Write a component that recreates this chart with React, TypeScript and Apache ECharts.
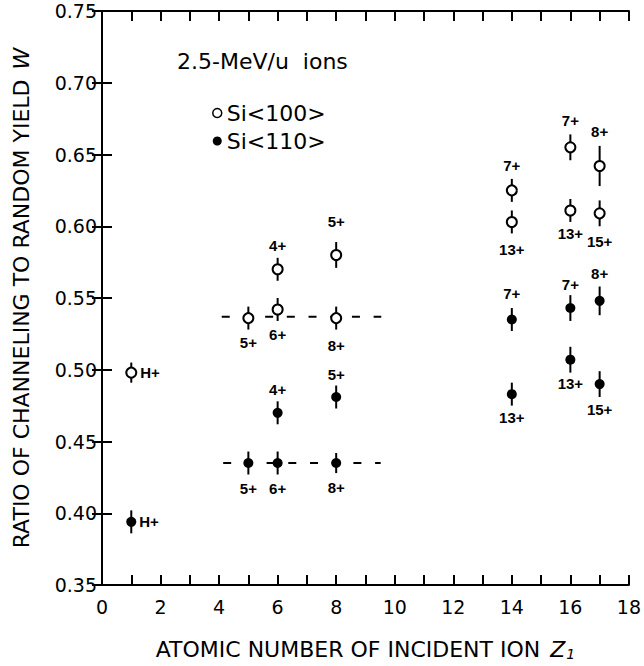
import React, { useEffect, useRef } from "react";
import * as echarts from "echarts";

// ---- Data ----
const xTicks = [0, 2, 4, 6, 8, 10, 12, 14, 16, 18];
const yTicks = [0.35, 0.4, 0.45, 0.5, 0.55, 0.6, 0.65, 0.7, 0.75];

const si100Z = [1, 5, 6, 6, 8, 8, 14, 14, 16, 16, 17, 17];
const si100W = [0.498, 0.536, 0.570, 0.542, 0.580, 0.536, 0.625, 0.603, 0.655, 0.611, 0.642, 0.609];
const si100Err = [0.007, 0.008, 0.008, 0.008, 0.009, 0.008, 0.008, 0.008, 0.009, 0.008, 0.014, 0.009];
const si100Charge = ["H+", "5+", "4+", "6+", "5+", "8+", "7+", "13+", "7+", "13+", "8+", "15+"];

const si110Z = [1, 5, 6, 6, 8, 8, 14, 14, 16, 16, 17, 17];
const si110W = [0.394, 0.435, 0.470, 0.435, 0.481, 0.435, 0.535, 0.483, 0.543, 0.507, 0.548, 0.490];
const si110Err = [0.008, 0.008, 0.008, 0.008, 0.008, 0.007, 0.008, 0.008, 0.009, 0.009, 0.010, 0.009];
const si110Charge = ["H+", "5+", "4+", "6+", "5+", "8+", "7+", "13+", "7+", "13+", "8+", "15+"];

// dashed reference levels: [zStart, zEnd, W]
const refUpper = [4.09, 9.54, 0.537];
const refLower = [4.14, 9.52, 0.435];

// ---- label placement (style) ----
const si100LabelPos = ["right", "bottom", "top", "bottom", "top", "bottom", "top", "bottom", "top", "bottom", "top", "bottom"];
const si100LabelDist = [3, 11, 10, 12, 20, 14, 11, 14, 13, 10, 21, 15];
const si110LabelPos = ["right", "bottom", "top", "bottom", "top", "bottom", "top", "bottom", "top", "bottom", "top", "bottom"];
const si110LabelDist = [3, 13, 11, 13, 10, 12, 14, 11, 11, 11, 15, 13];

const FONT = "Liberation Sans, Arial, Helvetica, sans-serif";
const WIDE_FONT = "DejaVu Sans, Liberation Sans, sans-serif";

export default function App() {
  const ref = useRef<HTMLDivElement>(null);

  useEffect(() => {
    const chart = echarts.init(ref.current!, null, { renderer: "svg" });

    const errorSeries = (name: string, zs: number[], ws: number[], es: number[]) => ({
      name,
      type: "custom",
      silent: true,
      z: 1,
      renderItem: (_p: any, api: any) => {
        const x = api.value(0);
        const p1 = api.coord([x, api.value(1)]);
        const p2 = api.coord([x, api.value(2)]);
        return {
          type: "line",
          shape: { x1: p1[0], y1: p1[1], x2: p2[0], y2: p2[1] },
          style: { stroke: "#000", lineWidth: 2 },
        };
      },
      encode: { x: 0, y: [1, 2] },
      data: zs.map((z, i) => [z, ws[i] - es[i], ws[i] + es[i]]),
    });

    const pointData = (zs: number[], ws: number[], charges: string[], pos: string[], dist: number[]) =>
      zs.map((z, i) => ({
        value: [z, ws[i]],
        label: { formatter: charges[i], position: pos[i], distance: dist[i] },
      }));

    const labelStyle = {
      show: true,
      color: "#000",
      fontSize: 15,
      fontWeight: "bold",
      fontFamily: FONT,
    };

    const dashed = (name: string, r: number[]) => ({
      name,
      type: "line",
      silent: true,
      symbol: "none",
      z: 0,
      lineStyle: { color: "#000", width: 2, type: [8, 13.7] },
      data: [
        [r[0], r[2]],
        [r[1], r[2]],
      ],
    });

    const tickAxisCommon = {
      axisLine: { show: true, lineStyle: { color: "#000", width: 2 } },
      axisTick: { show: true, inside: true, length: 10, lineStyle: { color: "#000", width: 2 } },
      splitLine: { show: false },
    };

    chart.setOption({
      animation: false,
      backgroundColor: "#fff",
      title: {
        text: "2.5-MeV/u  ions",
        left: 177,
        top: 50,
        padding: 0,
        textStyle: { fontFamily: WIDE_FONT, fontSize: 22, fontWeight: "normal", color: "#000" },
      },
      legend: {
        data: [
          { name: "Si<100>", icon: "circle", itemStyle: { color: "#fff", borderColor: "#000", borderWidth: 1.5 } },
          { name: "Si<110>", icon: "circle", itemStyle: { color: "#000", borderColor: "#000", borderWidth: 0 } },
        ],
        orient: "vertical",
        left: 212,
        top: 102,
        padding: 0,
        itemWidth: 9,
        itemHeight: 9,
        itemGap: 6,
        textStyle: { fontFamily: WIDE_FONT, fontSize: 22, color: "#000", lineHeight: 22 },
      },
      grid: { left: 102, right: 11, top: 11, bottom: 79, containLabel: false },
      xAxis: [
        {
          type: "value",
          position: "bottom",
          min: xTicks[0],
          max: xTicks[xTicks.length - 1],
          interval: 1,
          ...tickAxisCommon,
          axisLabel: {
            color: "#000",
            fontSize: 19,
            fontFamily: WIDE_FONT,
            margin: 12,
            formatter: (v: number) => (xTicks.includes(v) ? String(v) : ""),
          },
          name: "{n|ATOMIC NUMBER OF INCIDENT ION}   {i|Z}{s|1}",
          nameLocation: "middle",
          nameGap: 53,
          nameTextStyle: {
            rich: {
              n: { fontFamily: WIDE_FONT, fontSize: 22, color: "#000" },
              i: { fontFamily: WIDE_FONT, fontSize: 22, fontStyle: "italic", color: "#000" },
              s: { fontFamily: WIDE_FONT, fontSize: 14, fontStyle: "italic", color: "#000", verticalAlign: "bottom", padding: [9, 0, 0, 1] },
            },
          },
        },
        {
          type: "value",
          position: "top",
          min: xTicks[0],
          max: xTicks[xTicks.length - 1],
          interval: 1,
          ...tickAxisCommon,
          axisLabel: { show: false },
        },
      ],
      yAxis: [
        {
          type: "value",
          position: "left",
          min: yTicks[0],
          max: yTicks[yTicks.length - 1],
          interval: 0.05,
          ...tickAxisCommon,
          axisLabel: {
            color: "#000",
            fontSize: 19,
            fontFamily: WIDE_FONT,
            margin: 5,
            formatter: (v: number) => v.toFixed(2),
          },
          name: "{n|RATIO OF CHANNELING TO RANDOM YIELD}   {i|W}",
          nameLocation: "middle",
          nameGap: 70,
          nameTextStyle: {
            rich: {
              n: { fontFamily: WIDE_FONT, fontSize: 22, color: "#000" },
              i: { fontFamily: WIDE_FONT, fontSize: 22, fontStyle: "italic", color: "#000" },
            },
          },
        },
        {
          type: "value",
          position: "right",
          min: yTicks[0],
          max: yTicks[yTicks.length - 1],
          interval: 0.05,
          ...tickAxisCommon,
          axisLabel: { show: false },
        },
      ],
      series: [
        dashed("ref-upper", refUpper),
        dashed("ref-lower", refLower),
        errorSeries("err100", si100Z, si100W, si100Err),
        errorSeries("err110", si110Z, si110W, si110Err),
        {
          name: "Si<100>",
          type: "scatter",
          z: 3,
          symbol: "circle",
          symbolSize: 10,
          itemStyle: { color: "#fff", borderColor: "#000", borderWidth: 2, opacity: 1 },
          label: labelStyle,
          data: pointData(si100Z, si100W, si100Charge, si100LabelPos, si100LabelDist),
        },
        {
          name: "Si<110>",
          type: "scatter",
          z: 3,
          symbol: "circle",
          symbolSize: 10,
          itemStyle: { color: "#000", opacity: 1 },
          label: labelStyle,
          data: pointData(si110Z, si110W, si110Charge, si110LabelPos, si110LabelDist),
        },
      ],
    });

    return () => chart.dispose();
  }, []);

  return (
    <div
      ref={ref}
      style={{ position: "absolute", left: 0, top: 0, width: 644, height: 666, background: "#fff" }}
    />
  );
}
